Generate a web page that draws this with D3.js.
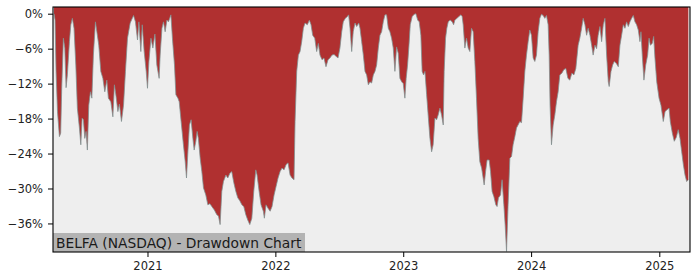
<!DOCTYPE html>
<html>
<head>
<meta charset="utf-8">
<script src="https://cdn.jsdelivr.net/npm/d3@7"></script>
<style>
  html, body { margin: 0; padding: 0; background: #ffffff; }
  svg { display: block; font-family: "DejaVu Sans", sans-serif; }
</style>
</head>
<body>
<svg id="chart" width="700" height="280"></svg>
<script>
// ---- data (decimal year, drawdown %) ----
const chartTitle = "BELFA (NASDAQ) - Drawdown Chart";
const yearTicks = [2021, 2022, 2023, 2024, 2025];
const pctTicks = [0, -6, -12, -18, -24, -30, -36];
const xDomainYears = [2020.263, 2025.240];
const yDomainPct = [-40.9, 1.15];

const dateYears = [
2020.271,2020.279,2020.287,2020.298,2020.313,2020.323,2020.331,2020.344,2020.355,2020.365,
2020.375,2020.391,2020.402,2020.414,2020.427,2020.441,2020.453,2020.469,2020.480,2020.490,
2020.500,2020.511,2020.521,2020.531,2020.542,2020.555,2020.566,2020.578,2020.594,2020.605,
2020.620,2020.636,2020.652,2020.667,2020.683,2020.695,2020.714,2020.730,2020.742,2020.755,
2020.769,2020.781,2020.797,2020.813,2020.828,2020.844,2020.865,2020.891,2020.906,2020.922,
2020.933,2020.948,2020.959,2020.974,2020.990,2021.000,2021.011,2021.027,2021.042,2021.058,
2021.073,2021.091,2021.099,2021.113,2021.125,2021.138,2021.152,2021.164,2021.183,2021.195,
2021.211,2021.222,2021.238,2021.248,2021.263,2021.281,2021.295,2021.305,2021.316,2021.328,
2021.341,2021.355,2021.365,2021.378,2021.388,2021.398,2021.412,2021.425,2021.438,2021.456,
2021.472,2021.488,2021.503,2021.523,2021.542,2021.555,2021.568,2021.581,2021.594,2021.613,
2021.628,2021.644,2021.659,2021.675,2021.691,2021.706,2021.722,2021.738,2021.753,2021.769,
2021.784,2021.800,2021.816,2021.831,2021.847,2021.857,2021.873,2021.888,2021.906,2021.914,
2021.927,2021.943,2021.959,2021.974,2021.990,2022.005,2022.021,2022.037,2022.052,2022.068,
2022.084,2022.099,2022.115,2022.130,2022.146,2022.154,2022.167,2022.180,2022.193,2022.206,
2022.219,2022.232,2022.250,2022.266,2022.279,2022.292,2022.308,2022.323,2022.336,2022.349,
2022.365,2022.380,2022.396,2022.412,2022.427,2022.443,2022.459,2022.474,2022.490,2022.505,
2022.519,2022.531,2022.547,2022.563,2022.573,2022.584,2022.597,2022.609,2022.623,2022.636,
2022.652,2022.662,2022.675,2022.688,2022.701,2022.714,2022.727,2022.740,2022.753,2022.766,
2022.779,2022.792,2022.805,2022.818,2022.831,2022.844,2022.857,2022.870,2022.883,2022.896,
2022.909,2022.922,2022.935,2022.948,2022.961,2022.974,2022.988,2023.000,2023.013,2023.023,
2023.034,2023.045,2023.055,2023.070,2023.086,2023.099,2023.113,2023.125,2023.138,2023.148,
2023.159,2023.170,2023.183,2023.195,2023.209,2023.222,2023.234,2023.248,2023.261,2023.273,
2023.287,2023.300,2023.313,2023.320,2023.331,2023.341,2023.352,2023.367,2023.383,2023.394,
2023.404,2023.420,2023.435,2023.451,2023.461,2023.469,2023.482,2023.495,2023.508,2023.521,
2023.534,2023.547,2023.560,2023.573,2023.586,2023.599,2023.613,2023.625,2023.633,2023.644,
2023.656,2023.672,2023.683,2023.695,2023.709,2023.724,2023.734,2023.745,2023.761,2023.773,
2023.787,2023.797,2023.808,2023.820,2023.834,2023.847,2023.859,2023.873,2023.886,2023.898,
2023.912,2023.925,2023.938,2023.951,2023.964,2023.977,2023.990,2024.003,2024.016,2024.029,
2024.042,2024.055,2024.068,2024.081,2024.094,2024.107,2024.120,2024.133,2024.141,2024.148,
2024.159,2024.172,2024.185,2024.198,2024.211,2024.224,2024.240,2024.255,2024.271,2024.287,
2024.302,2024.318,2024.334,2024.349,2024.367,2024.380,2024.394,2024.406,2024.420,2024.433,
2024.445,2024.459,2024.472,2024.484,2024.498,2024.511,2024.523,2024.537,2024.550,2024.563,
2024.576,2024.589,2024.602,2024.609,2024.623,2024.636,2024.648,2024.664,2024.680,2024.693,
2024.706,2024.719,2024.732,2024.745,2024.758,2024.771,2024.784,2024.797,2024.810,2024.823,
2024.836,2024.849,2024.857,2024.867,2024.880,2024.894,2024.909,2024.920,2024.930,2024.945,
2024.956,2024.966,2024.980,2024.998,2025.013,2025.031,2025.045,2025.060,2025.076,2025.086,
2025.102,2025.117,2025.133,2025.148,2025.162,2025.175,2025.188,2025.201,2025.214,2025.227
];

const drawdownPct = [
0,-1.1,-9.9,-16.8,-21.1,-20.5,-12.7,-4.2,-5.9,-12.7,
-10.5,-4.8,-1.9,-0.8,-2.5,-8.8,-16.2,-19.6,-22.5,-17.9,
-18.2,-21.4,-20.2,-23.4,-15.7,-13.4,-14.5,-7.1,-1.4,-3.1,
-5.4,-9.9,-11.1,-13.4,-11.4,-14.5,-15.1,-17.7,-12.2,-14.2,
-16.8,-15.5,-18.5,-15.7,-9.9,-4.2,-1.6,-0.3,-1.4,-4.5,
-1.4,-6.5,-1.9,-6.5,-9.9,-12.8,-8.2,-4.2,-5.9,-3.5,
-8.8,-11.1,-7.1,-2.5,-1.4,-3.1,-1.1,-1.4,-0.2,-4.2,
-8.8,-13.9,-14.5,-15.1,-18.5,-22.5,-25.4,-28.2,-23.7,-19.1,
-18.2,-21.4,-23.4,-21.9,-20.2,-21.4,-24.8,-27.1,-29.9,-31.1,
-32.8,-32.6,-33.1,-33.7,-34.5,-34.7,-36.2,-30.5,-28.8,-27.7,
-28.2,-27.4,-27.1,-29.0,-30.5,-31.6,-32.1,-32.8,-33.1,-34.5,
-35.4,-36.2,-35.1,-30.5,-26.8,-27.7,-30.5,-32.8,-33.9,-35.1,
-32.8,-33.4,-33.9,-33.1,-31.1,-29.7,-28.2,-27.1,-26.5,-26.8,
-25.9,-25.6,-27.7,-28.2,-28.5,-18.5,-9.9,-7.1,-6.5,-4.8,
-2.5,-1.6,-1.9,-1.1,-1.9,-3.7,-4.2,-6.5,-5.1,-7.1,
-7.9,-7.6,-9.1,-7.9,-7.6,-7.1,-7.0,-7.3,-7.6,-5.9,
-3.1,-1.4,-0.8,-0.5,-0.2,-2.5,-6.5,-3.1,-1.6,-2.2,
-1.6,-2.5,-4.8,-7.1,-9.9,-10.5,-12.2,-11.7,-11.9,-10.5,
-9.9,-8.8,-5.9,-3.7,-3.1,-1.4,-0.2,-0.2,-2.5,-3.1,
-4.2,-5.9,-9.9,-5.7,-6.8,-11.1,-11.7,-12.0,-14.5,-11.1,
-8.8,-5.4,-1.9,-0.5,-0.1,0,-1.1,-1.4,-3.7,-9.9,
-10.5,-9.9,-13.9,-17.4,-21.4,-23.7,-22.5,-17.9,-18.2,-17.4,
-16.2,-17.4,-19.1,-9.9,-4.2,-2.5,-1.4,-1.1,-1.4,-1.9,
-1.1,-0.8,-0.5,-0.2,-0.5,-1.9,-5.9,-4.2,-5.9,-6.5,
-2.5,-3.1,-8.2,-14.5,-21.4,-25.4,-26.5,-28.2,-29.4,-27.1,
-25.1,-25.1,-27.1,-30.5,-31.4,-32.8,-33.1,-31.6,-31.1,-28.5,
-32.8,-36.2,-40.8,-32.8,-24.8,-24.5,-22.5,-21.1,-19.6,-19.1,
-18.5,-18.7,-14.5,-9.9,-7.1,-4.8,-2.8,-3.7,-7.6,-8.2,
-7.1,-3.1,-0.8,-0.1,-0.3,-0.8,-0.3,-1.9,-7.1,-15.7,
-22.5,-19.1,-17.4,-15.1,-13.4,-10.5,-10.2,-9.6,-9.4,-11.1,
-11.4,-10.2,-10.5,-9.4,-5.4,-4.2,-2.5,-0.8,-1.9,-3.7,
-2.5,-3.7,-5.4,-7.1,-5.4,-6.0,-3.7,-2.2,-4.8,-1.9,
-0.8,-7.1,-11.7,-12.5,-9.9,-8.8,-8.2,-8.5,-9.1,-5.4,
-3.7,-1.9,-2.5,-1.4,-2.2,-1.4,-0.8,-0.3,-1.4,-1.9,
-2.8,-4.8,-3.1,-7.1,-11.4,-8.8,-7.1,-4.2,-5.4,-5.1,
-3.9,-7.6,-11.7,-14.5,-15.7,-18.5,-16.8,-16.5,-16.2,-18.5,
-20.5,-21.9,-21.2,-19.9,-21.4,-23.7,-25.9,-27.7,-28.8,-28.5
];

// ---- helpers ----
function yearToDate(y) {
  const yr = Math.floor(y);
  const start = Date.UTC(yr, 0, 1), end = Date.UTC(yr + 1, 0, 1);
  return new Date(start + (y - yr) * (end - start));
}

const data = dateYears.map((d, i) => ({ date: yearToDate(d), v: drawdownPct[i] }));

const W = 700, H = 280;
const m = { left: 53, right: 10, top: 7, bottom: 28 };
const pw = W - m.left - m.right, ph = H - m.top - m.bottom;

const svg = d3.select("#chart");
const g = svg.append("g").attr("transform", `translate(${m.left},${m.top})`);

const x = d3.scaleUtc().domain(xDomainYears.map(yearToDate)).range([0, pw]);
const y = d3.scaleLinear().domain(yDomainPct).range([ph, 0]);

svg.append("defs").append("clipPath").attr("id", "clip")
  .append("rect").attr("width", pw).attr("height", ph);

// background
g.append("rect").attr("width", pw).attr("height", ph).attr("fill", "#eeeeee");

const plot = g.append("g").attr("clip-path", "url(#clip)");

// red drawdown area (from top of axes down to curve)
plot.append("path").datum(data)
  .attr("fill", "#b03030")
  .attr("d", d3.area().x(d => x(d.date)).y0(0).y1(d => y(d.v)));

plot.append("path").datum(data)
  .attr("fill", "none")
  .attr("stroke", "#7f8f8f")
  .attr("stroke-width", 0.9)
  .attr("stroke-opacity", 0.85)
  .attr("d", d3.line().x(d => x(d.date)).y(d => y(d.v)));

// axes
const fmtPct = d => (d < 0 ? "\u2212" + Math.abs(d) : d) + "%";
const yAxis = g.append("g").call(d3.axisLeft(y).tickValues(pctTicks).tickFormat(fmtPct).tickSize(5).tickPadding(5));
const xAxis = g.append("g").attr("transform", `translate(0,${ph})`)
  .call(d3.axisBottom(x).tickValues(yearTicks.map(v => yearToDate(v))).tickFormat(d3.utcFormat("%Y")).tickSize(5).tickPadding(5));

[yAxis, xAxis].forEach(a => {
  a.select(".domain").remove();
  a.selectAll("line").attr("stroke", "#000").attr("stroke-width", 1);
  a.selectAll("text").attr("fill", "#222").style("font-size", "11.5px").style("font-family", "DejaVu Sans, sans-serif");
});

// title box
const label = g.append("g");
const txt = label.append("text")
  .attr("x", 3).attr("y", ph - 4.5)
  .attr("fill", "#1a1a1a")
  .style("font-size", "13.8px")
  .style("font-family", "DejaVu Sans, sans-serif")
  .text(chartTitle);
const bb = txt.node().getBBox();
label.insert("rect", "text")
  .attr("x", 0).attr("y", ph - 19)
  .attr("width", bb.width + 6).attr("height", 19)
  .attr("fill", "#b3b3b3");

// frame
g.append("rect").attr("width", pw).attr("height", ph)
  .attr("fill", "none").attr("stroke", "#000").attr("stroke-width", 1.1);
</script>
</body>
</html>
